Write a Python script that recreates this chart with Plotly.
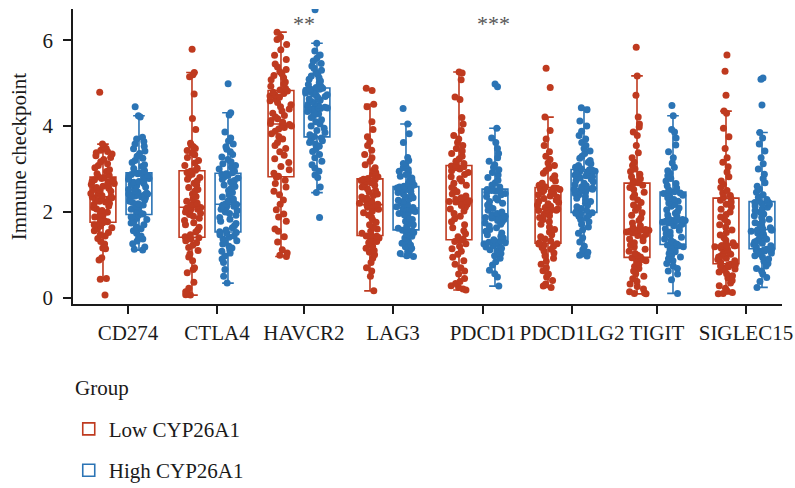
import plotly.graph_objects as go

# Immune checkpoint expression by CYP26A1 group
GENES = ["CD274", "CTLA4", "HAVCR2", "LAG3", "PDCD1", "PDCD1LG2", "TIGIT", "SIGLEC15"]
GROUPS = ["Low CYP26A1", "High CYP26A1"]
SIG_LABELS = ["", "", "**", "", "***", "", "", ""]

LOW_CD274 = [0.06, 0.43, 0.45, 0.88, 0.93, 1.14, 1.16, 1.25, 1.31, 1.38, 1.44, 1.47, 1.52, 1.56, 1.60, 1.63, 1.67, 1.70, 1.73, 1.75,
             1.77, 1.80, 1.84, 1.88, 1.92, 1.95, 1.99, 2.03, 2.07, 2.10, 2.14, 2.17, 2.20, 2.23, 2.25, 2.27, 2.29, 2.31, 2.33, 2.34,
             2.36, 2.38, 2.41, 2.43, 2.46, 2.48, 2.50, 2.52, 2.55, 2.57, 2.60, 2.62, 2.64, 2.66, 2.69, 2.71, 2.73, 2.75, 2.78, 2.80,
             2.82, 2.85, 2.89, 2.94, 2.98, 3.03, 3.08, 3.12, 3.17, 3.22, 3.27, 3.31, 3.35, 3.38, 3.41, 3.44, 3.48, 3.52, 3.58, 4.79]
HIGH_CD274 = [1.11, 1.13, 1.18, 1.26, 1.32, 1.37, 1.41, 1.44, 1.50, 1.56, 1.61, 1.65, 1.70, 1.74, 1.78, 1.82, 1.85, 1.88, 1.91, 1.93,
              1.95, 1.98, 2.02, 2.06, 2.10, 2.13, 2.16, 2.19, 2.22, 2.25, 2.28, 2.30, 2.33, 2.35, 2.37, 2.39, 2.40, 2.41, 2.42, 2.42,
              2.44, 2.46, 2.49, 2.52, 2.55, 2.58, 2.61, 2.64, 2.66, 2.69, 2.71, 2.74, 2.76, 2.78, 2.81, 2.83, 2.85, 2.87, 2.89, 2.90,
              2.92, 2.96, 3.01, 3.06, 3.10, 3.15, 3.20, 3.25, 3.30, 3.36, 3.42, 3.47, 3.53, 3.58, 3.64, 3.70, 3.74, 4.21, 4.24, 4.45]
LOW_CTLA4 = [0.06, 0.07, 0.08, 0.10, 0.14, 0.22, 0.36, 0.58, 0.66, 0.70, 0.86, 0.95, 1.02, 1.10, 1.17, 1.22, 1.28, 1.33, 1.37, 1.40,
             1.42, 1.47, 1.53, 1.58, 1.64, 1.70, 1.75, 1.80, 1.85, 1.90, 1.94, 1.97, 2.00, 2.02, 2.04, 2.06, 2.07, 2.08, 2.09, 2.10,
             2.12, 2.14, 2.17, 2.21, 2.25, 2.30, 2.36, 2.42, 2.48, 2.52, 2.57, 2.62, 2.67, 2.72, 2.76, 2.80, 2.84, 2.88, 2.92, 2.95,
             2.97, 3.02, 3.08, 3.14, 3.20, 3.27, 3.33, 3.38, 3.43, 3.48, 3.52, 3.56, 3.60, 3.92, 4.18, 4.75, 5.15, 5.20, 5.25, 5.79]
HIGH_CTLA4 = [0.34, 0.50, 0.66, 0.82, 0.90, 0.97, 1.04, 1.08, 1.12, 1.16, 1.20, 1.25, 1.29, 1.33, 1.37, 1.41, 1.44, 1.47, 1.50, 1.52,
              1.54, 1.58, 1.63, 1.68, 1.73, 1.78, 1.83, 1.87, 1.92, 1.96, 2.00, 2.03, 2.06, 2.09, 2.11, 2.13, 2.14, 2.15, 2.16, 2.17,
              2.19, 2.22, 2.26, 2.30, 2.35, 2.40, 2.45, 2.50, 2.55, 2.59, 2.63, 2.67, 2.70, 2.73, 2.76, 2.79, 2.82, 2.85, 2.87, 2.89,
              2.91, 2.95, 3.00, 3.04, 3.08, 3.12, 3.17, 3.22, 3.28, 3.34, 3.40, 3.46, 3.52, 3.58, 3.65, 3.72, 3.86, 4.26, 4.31, 4.99]
LOW_HAVCR2 = [0.96, 0.99, 1.04, 1.12, 1.30, 1.42, 1.55, 1.60, 1.78, 1.88, 1.95, 2.05, 2.18, 2.28, 2.40, 2.48, 2.58, 2.66, 2.74, 2.81,
              2.83, 2.90, 2.98, 3.06, 3.15, 3.24, 3.32, 3.40, 3.48, 3.55, 3.62, 3.70, 3.76, 3.82, 3.88, 3.93, 3.97, 4.00, 4.02, 4.04,
              4.06, 4.09, 4.13, 4.17, 4.21, 4.25, 4.30, 4.35, 4.40, 4.45, 4.50, 4.55, 4.59, 4.63, 4.67, 4.70, 4.73, 4.76, 4.79, 4.82,
              4.84, 4.88, 4.93, 4.98, 5.03, 5.08, 5.13, 5.18, 5.22, 5.27, 5.32, 5.38, 5.45, 5.55, 5.65, 5.78, 5.90, 6.02, 6.08, 6.19]
HIGH_HAVCR2 = [1.87, 2.45, 2.58, 2.80, 2.86, 2.95, 3.02, 3.10, 3.18, 3.26, 3.34, 3.41, 3.47, 3.53, 3.58, 3.62, 3.66, 3.69, 3.72, 3.74,
               3.76, 3.80, 3.85, 3.90, 3.95, 4.00, 4.05, 4.10, 4.15, 4.20, 4.24, 4.28, 4.31, 4.34, 4.37, 4.39, 4.41, 4.42, 4.43, 4.44,
               4.46, 4.48, 4.51, 4.54, 4.57, 4.60, 4.63, 4.66, 4.69, 4.71, 4.73, 4.75, 4.77, 4.79, 4.81, 4.83, 4.85, 4.86, 4.87, 4.88,
               4.90, 4.93, 4.97, 5.01, 5.05, 5.09, 5.13, 5.17, 5.21, 5.25, 5.30, 5.35, 5.40, 5.46, 5.52, 5.58, 5.66, 5.75, 5.93, 6.71]
LOW_LAG3 = [0.16, 0.50, 0.62, 0.70, 0.82, 0.92, 1.00, 1.06, 1.10, 1.15, 1.20, 1.24, 1.28, 1.31, 1.34, 1.37, 1.39, 1.41, 1.43, 1.44,
            1.46, 1.50, 1.55, 1.60, 1.65, 1.70, 1.76, 1.82, 1.88, 1.93, 1.98, 2.02, 2.06, 2.09, 2.11, 2.13, 2.14, 2.15, 2.16, 2.16,
            2.18, 2.20, 2.23, 2.26, 2.29, 2.32, 2.35, 2.38, 2.42, 2.46, 2.50, 2.54, 2.58, 2.62, 2.65, 2.68, 2.71, 2.73, 2.75, 2.76,
            2.78, 2.82, 2.87, 2.92, 2.97, 3.03, 3.10, 3.18, 3.26, 3.34, 3.44, 3.55, 3.64, 3.75, 3.92, 4.10, 4.45, 4.51, 4.83, 4.88]
HIGH_LAG3 = [0.96, 0.98, 1.00, 1.03, 1.07, 1.11, 1.15, 1.19, 1.23, 1.27, 1.31, 1.35, 1.39, 1.43, 1.46, 1.49, 1.52, 1.54, 1.56, 1.57,
             1.59, 1.62, 1.66, 1.70, 1.74, 1.78, 1.82, 1.86, 1.90, 1.93, 1.96, 1.99, 2.01, 2.03, 2.05, 2.06, 2.07, 2.08, 2.08, 2.08,
             2.10, 2.12, 2.15, 2.18, 2.21, 2.24, 2.27, 2.30, 2.33, 2.36, 2.39, 2.42, 2.45, 2.48, 2.50, 2.52, 2.54, 2.56, 2.57, 2.58,
             2.60, 2.63, 2.67, 2.71, 2.75, 2.79, 2.83, 2.87, 2.91, 2.95, 2.99, 3.03, 3.08, 3.13, 3.20, 3.27, 3.62, 3.82, 4.05, 4.41]
LOW_PDCD1 = [0.18, 0.20, 0.24, 0.28, 0.33, 0.38, 0.45, 0.55, 0.62, 0.70, 0.78, 0.86, 0.94, 1.01, 1.08, 1.14, 1.20, 1.26, 1.31, 1.34,
             1.36, 1.42, 1.49, 1.56, 1.63, 1.70, 1.77, 1.84, 1.90, 1.96, 2.02, 2.07, 2.11, 2.15, 2.18, 2.20, 2.22, 2.23, 2.24, 2.24,
             2.26, 2.29, 2.33, 2.37, 2.42, 2.47, 2.52, 2.57, 2.62, 2.67, 2.72, 2.77, 2.82, 2.87, 2.92, 2.96, 3.00, 3.03, 3.05, 3.07,
             3.09, 3.13, 3.18, 3.24, 3.30, 3.36, 3.42, 3.48, 3.55, 3.62, 3.70, 3.78, 3.90, 4.05, 4.20, 4.62, 4.68, 5.08, 5.24, 5.26]
HIGH_PDCD1 = [0.27, 0.48, 0.56, 0.64, 0.76, 0.84, 0.92, 0.98, 1.03, 1.08, 1.12, 1.15, 1.18, 1.21, 1.23, 1.25, 1.27, 1.28, 1.29, 1.30,
              1.32, 1.35, 1.39, 1.43, 1.47, 1.51, 1.55, 1.59, 1.63, 1.67, 1.71, 1.74, 1.77, 1.80, 1.82, 1.84, 1.85, 1.86, 1.87, 1.88,
              1.90, 1.93, 1.96, 2.00, 2.04, 2.08, 2.12, 2.16, 2.20, 2.24, 2.28, 2.32, 2.36, 2.40, 2.43, 2.46, 2.48, 2.50, 2.51, 2.52,
              2.54, 2.58, 2.63, 2.68, 2.74, 2.80, 2.86, 2.92, 2.98, 3.04, 3.10, 3.18, 3.26, 3.36, 3.48, 3.62, 3.72, 3.95, 4.92, 4.98]
LOW_PDCD1LG2 = [0.24, 0.27, 0.32, 0.40, 0.48, 0.55, 0.63, 0.70, 0.78, 0.85, 0.92, 0.98, 1.04, 1.09, 1.13, 1.17, 1.20, 1.23, 1.25, 1.26,
                1.28, 1.32, 1.37, 1.42, 1.47, 1.53, 1.59, 1.65, 1.71, 1.77, 1.82, 1.87, 1.91, 1.95, 1.98, 2.01, 2.03, 2.04, 2.05, 2.05,
                2.07, 2.10, 2.13, 2.16, 2.19, 2.22, 2.25, 2.28, 2.31, 2.34, 2.37, 2.40, 2.43, 2.46, 2.48, 2.50, 2.52, 2.54, 2.55, 2.56,
                2.58, 2.62, 2.67, 2.72, 2.78, 2.84, 2.90, 2.96, 3.02, 3.08, 3.14, 3.22, 3.30, 3.40, 3.55, 3.70, 3.90, 4.21, 4.90, 5.35]
HIGH_PDCD1LG2 = [0.97, 0.99, 1.02, 1.06, 1.12, 1.20, 1.30, 1.40, 1.50, 1.58, 1.65, 1.71, 1.77, 1.82, 1.86, 1.90, 1.93, 1.95, 1.97, 1.98,
                 2.00, 2.04, 2.08, 2.12, 2.16, 2.20, 2.24, 2.28, 2.32, 2.36, 2.40, 2.43, 2.46, 2.48, 2.50, 2.51, 2.52, 2.53, 2.54, 2.54,
                 2.56, 2.58, 2.61, 2.64, 2.67, 2.70, 2.73, 2.76, 2.79, 2.82, 2.84, 2.86, 2.88, 2.90, 2.92, 2.94, 2.95, 2.96, 2.97, 2.98,
                 3.00, 3.04, 3.08, 3.12, 3.16, 3.20, 3.25, 3.30, 3.36, 3.42, 3.48, 3.55, 3.62, 3.70, 3.78, 3.88, 4.00, 4.12, 4.38, 4.43]
LOW_TIGIT = [0.09, 0.10, 0.11, 0.14, 0.20, 0.26, 0.32, 0.38, 0.44, 0.50, 0.56, 0.62, 0.68, 0.73, 0.78, 0.82, 0.86, 0.89, 0.91, 0.93,
             0.95, 0.99, 1.03, 1.08, 1.13, 1.18, 1.23, 1.28, 1.33, 1.37, 1.41, 1.45, 1.48, 1.51, 1.53, 1.55, 1.56, 1.57, 1.57, 1.57,
             1.59, 1.63, 1.68, 1.74, 1.80, 1.86, 1.92, 1.98, 2.04, 2.10, 2.16, 2.22, 2.28, 2.34, 2.40, 2.46, 2.52, 2.57, 2.62, 2.66,
             2.68, 2.72, 2.77, 2.82, 2.88, 2.94, 3.00, 3.08, 3.16, 3.26, 3.38, 3.55, 3.78, 3.86, 3.98, 4.05, 4.21, 4.72, 5.17, 5.84]
HIGH_TIGIT = [0.10, 0.42, 0.55, 0.62, 0.68, 0.74, 0.80, 0.86, 0.91, 0.95, 0.99, 1.03, 1.07, 1.11, 1.14, 1.17, 1.19, 1.21, 1.22, 1.23,
              1.25, 1.29, 1.33, 1.37, 1.41, 1.45, 1.49, 1.53, 1.57, 1.61, 1.65, 1.68, 1.71, 1.74, 1.76, 1.78, 1.79, 1.80, 1.80, 1.80,
              1.82, 1.85, 1.89, 1.93, 1.97, 2.01, 2.05, 2.09, 2.13, 2.17, 2.21, 2.25, 2.29, 2.33, 2.36, 2.39, 2.41, 2.43, 2.44, 2.45,
              2.47, 2.51, 2.56, 2.61, 2.66, 2.72, 2.78, 2.84, 2.90, 2.96, 3.04, 3.14, 3.26, 3.40, 3.56, 3.72, 3.86, 3.92, 4.24, 4.48]
LOW_SIGLEC15 = [0.09, 0.10, 0.12, 0.16, 0.22, 0.28, 0.34, 0.40, 0.46, 0.51, 0.56, 0.60, 0.64, 0.67, 0.70, 0.72, 0.74, 0.76, 0.77, 0.78,
                0.80, 0.83, 0.86, 0.89, 0.92, 0.95, 0.98, 1.01, 1.04, 1.07, 1.10, 1.13, 1.15, 1.17, 1.19, 1.20, 1.21, 1.21, 1.21, 1.21,
                1.23, 1.28, 1.34, 1.40, 1.46, 1.52, 1.58, 1.64, 1.70, 1.76, 1.82, 1.88, 1.94, 2.00, 2.06, 2.12, 2.18, 2.23, 2.27, 2.31,
                2.33, 2.38, 2.44, 2.50, 2.57, 2.64, 2.72, 2.82, 2.93, 3.05, 3.16, 3.26, 3.48, 3.75, 3.95, 4.30, 4.35, 4.72, 5.28, 5.66]
HIGH_SIGLEC15 = [0.24, 0.38, 0.47, 0.55, 0.62, 0.68, 0.74, 0.80, 0.85, 0.90, 0.94, 0.98, 1.01, 1.04, 1.07, 1.09, 1.11, 1.12, 1.13, 1.13,
                 1.15, 1.18, 1.21, 1.24, 1.27, 1.30, 1.33, 1.36, 1.39, 1.42, 1.45, 1.48, 1.51, 1.53, 1.55, 1.56, 1.57, 1.58, 1.58, 1.58,
                 1.60, 1.63, 1.67, 1.71, 1.75, 1.79, 1.83, 1.87, 1.91, 1.95, 1.99, 2.03, 2.07, 2.11, 2.14, 2.17, 2.19, 2.21, 2.22, 2.23,
                 2.25, 2.29, 2.34, 2.40, 2.46, 2.53, 2.60, 2.68, 2.78, 2.88, 3.00, 3.12, 3.26, 3.42, 3.58, 3.72, 3.85, 4.49, 5.09, 5.12]

LOW_VALUES = [LOW_CD274, LOW_CTLA4, LOW_HAVCR2, LOW_LAG3, LOW_PDCD1, LOW_PDCD1LG2, LOW_TIGIT, LOW_SIGLEC15]
HIGH_VALUES = [HIGH_CD274, HIGH_CTLA4, HIGH_HAVCR2, HIGH_LAG3, HIGH_PDCD1, HIGH_PDCD1LG2, HIGH_TIGIT, HIGH_SIGLEC15]

# styling
COLORS = ["#BF3A1F", "#2B74B5"]
FONT = "Liberation Serif"
DODGE = 0.2022
BOX_WIDTH = 0.29
TICK_NUDGE = [0.079, 0.079, 0.056, 0.056, 0.067, 0.067, 0.022, 0.022]
SIG_NUDGE = [0, 0, 0.0, 0, 0.12, 0, 0, 0]

fig = go.Figure()
for g, (name, series, color, shift) in enumerate(
        zip(GROUPS, [LOW_VALUES, HIGH_VALUES], COLORS, [-DODGE, DODGE])):
    xs, ys = [], []
    for i, vals in enumerate(series):
        xs += [i + shift] * len(vals)
        ys += vals
    fig.add_trace(go.Box(
        x=xs, y=ys, name=name, legendgroup=name,
        width=BOX_WIDTH, whiskerwidth=0.45,
        boxpoints="all", jitter=1.0, pointpos=0,
        line=dict(color=color, width=1.6),
        fillcolor="rgba(255,255,255,0)",
        marker=dict(color=color, size=7, opacity=1),
        hoverinfo="y",
    ))

for i, lab in enumerate(SIG_LABELS):
    if lab:
        fig.add_annotation(x=i + TICK_NUDGE[i] + SIG_NUDGE[i], y=6.4, xref="x", yref="y",
                           text=lab, showarrow=False,
                           font=dict(family=FONT, size=22, color="#555555"))

# legend heading
fig.add_annotation(text="Group", xref="paper", yref="paper", x=0.0, y=-0.285,
                   xanchor="left", yanchor="middle", showarrow=False,
                   font=dict(family=FONT, size=21, color="#1a1a1a"))

fig.update_layout(
    width=795, height=488,
    margin=dict(l=73, r=13, t=9, b=184, autoexpand=False),
    plot_bgcolor="white", paper_bgcolor="white",
    font=dict(family=FONT, size=21, color="#1a1a1a"),
    boxmode="overlay",
    showlegend=True,
    legend=dict(x=-0.006, y=-0.355, xanchor="left", yanchor="top",
                orientation="v", tracegroupgap=11,
                font=dict(family=FONT, size=21), bgcolor="rgba(0,0,0,0)"),
    xaxis=dict(range=[-0.539, 7.427],
               tickvals=[i + n for i, n in enumerate(TICK_NUDGE)], ticktext=GENES,
               showline=True, linecolor="#1a1a1a", linewidth=1.6,
               ticks="outside", ticklen=8, tickwidth=1.6, tickcolor="#1a1a1a",
               ticklabelstandoff=1, automargin=False,
               showgrid=False, zeroline=False),
    yaxis=dict(range=[-0.147, 6.73], tickvals=[0, 2, 4, 6],
               title=dict(text="Immune checkpoint", standoff=10, font=dict(size=21)),
               showline=True, linecolor="#1a1a1a", linewidth=1.6,
               ticks="outside", ticklen=8, tickwidth=1.6, tickcolor="#1a1a1a",
               ticklabelstandoff=6, automargin=False,
               showgrid=False, zeroline=False),
)

fig.write_html("out.html")
